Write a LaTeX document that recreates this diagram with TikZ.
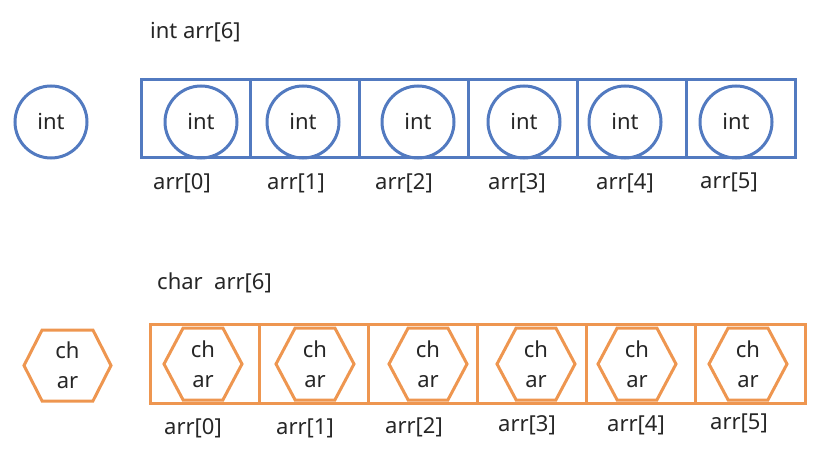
\documentclass[tikz,border=0pt]{standalone}
\usepackage{fontspec}
\setmainfont{Noto Sans}
\usetikzlibrary{shapes.symbols}
\definecolor{intBlue}{RGB}{82,122,192}
\definecolor{charOrange}{RGB}{238,150,80}
\tikzset{%
  % Specifications for style of nodes:
         base/.style = {inner sep=0pt, text=black!85,
                        font=\fontsize{22}{30}\selectfont},
      intCell/.style = {base, rectangle, line width=3pt, draw=intBlue,
                        minimum width=109pt, minimum height=78pt},
     charCell/.style = {base, rectangle, line width=3pt, draw=charOrange,
                        minimum width=109.2pt, minimum height=79pt},
       intVal/.style = {base, circle, line width=3pt, draw=intBlue,
                        minimum size=72pt},
      charVal/.style = {base, signal, signal to=west and east,
                        signal pointer angle=124, line width=3pt,
                        draw=charOrange, align=center,
                        minimum width=78pt, minimum height=72pt},
     idxLabel/.style = {base},
}
\begin{document}
\begin{tikzpicture}[x=1pt, y=-1pt]
\useasboundingbox (0,0) rectangle (834,470);

% int array
\node (intTitle) [base, anchor=west] at (150,32) {int arr[6]};

\node (intOne)  [intVal] at (51,122) {int};

\node (i0) [intCell] at (195.5,119) {};
\node (i1) [intCell] at (304.5,119) {};
\node (i2) [intCell] at (413.5,119) {};
\node (i3) [intCell] at (522.5,119) {};
\node (i4) [intCell] at (631.5,119) {};
\node (i5) [intCell] at (740.5,119) {};

\node (iv0) [intVal] at (201,122) {int};
\node (iv1) [intVal] at (303,122) {int};
\node (iv2) [intVal] at (418,122) {int};
\node (iv3) [intVal] at (524,122) {int};
\node (iv4) [intVal] at (625,122) {int};
\node (iv5) [intVal] at (736,122) {int};

\node (il0) [idxLabel] at (182,183) {arr[0]};
\node (il1) [idxLabel] at (296,183) {arr[1]};
\node (il2) [idxLabel] at (404,183) {arr[2]};
\node (il3) [idxLabel] at (517,183) {arr[3]};
\node (il4) [idxLabel] at (625,183) {arr[4]};
\node (il5) [idxLabel] at (729,182) {arr[5]};

% char array
\node (charTitle) [base, anchor=west] at (157,283) {char\ \ arr[6]};

\node (charOne) [charVal, minimum width=87pt, minimum height=71pt,
                 signal pointer angle=126] at (67.5,365.5) {ch\\ar};

\node (c0) [charCell] at (204.6,363.5) {};
\node (c1) [charCell] at (313.8,363.5) {};
\node (c2) [charCell] at (422.9,363.5) {};
\node (c3) [charCell] at (532.1,363.5) {};
\node (c4) [charCell] at (641.3,363.5) {};
\node (c5) [charCell] at (750.4,363.5) {};

\node (cv0) [charVal] at (203,364) {ch\\ar};
\node (cv1) [charVal] at (315,364) {ch\\ar};
\node (cv2) [charVal] at (428,364) {ch\\ar};
\node (cv3) [charVal] at (536,364) {ch\\ar};
\node (cv4) [charVal] at (637,364) {ch\\ar};
\node (cv5) [charVal] at (748,364) {ch\\ar};

\node (cl0) [idxLabel] at (193,428) {arr[0]};
\node (cl1) [idxLabel] at (305,428) {arr[1]};
\node (cl2) [idxLabel] at (414,427) {arr[2]};
\node (cl3) [idxLabel] at (527,425) {arr[3]};
\node (cl4) [idxLabel] at (636,425) {arr[4]};
\node (cl5) [idxLabel] at (739,423) {arr[5]};
\end{tikzpicture}
\end{document}
